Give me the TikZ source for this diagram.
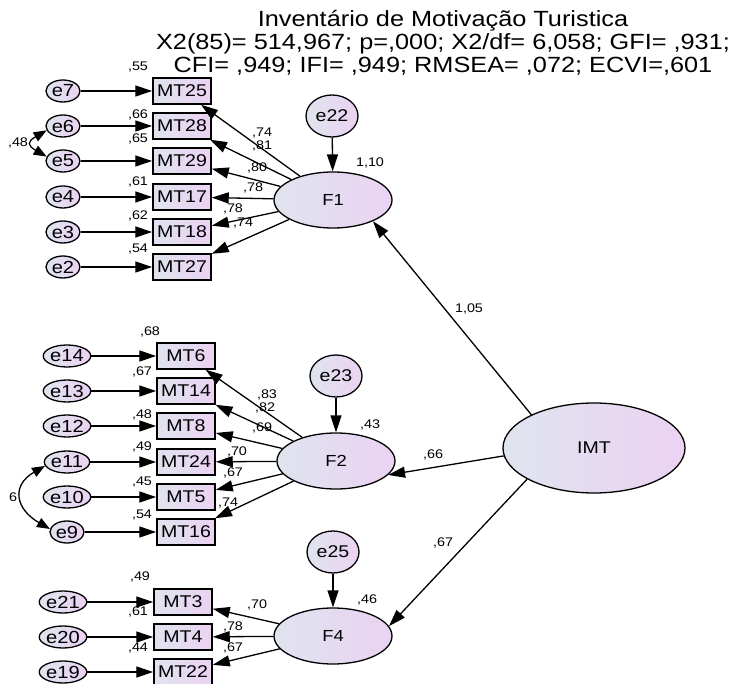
\documentclass[tikz,border=0pt]{standalone}
\usepackage{fontspec}
\setmainfont{Liberation Sans}[FakeStretch=1.15]
\usetikzlibrary{arrows.meta,shapes.geometric}

\definecolor{shadeL}{HTML}{DFE4EE}
\definecolor{shadeR}{HTML}{EBD2F3}

\tikzset{
  obs/.style={rectangle,draw,line width=1.5pt,minimum width=58pt,minimum height=26pt,inner sep=0pt,
    left color=shadeL,right color=shadeR,font=\fontsize{17}{17}\selectfont},
  err/.style={ellipse,draw,line width=1.3pt,minimum width=34pt,minimum height=22pt,inner sep=0pt,
    left color=shadeL,right color=shadeR,font=\fontsize{17.5}{17.5}\selectfont},
  dist/.style={ellipse,draw,line width=1.3pt,minimum width=52pt,minimum height=42pt,inner sep=0pt,
    left color=shadeL,right color=shadeR,font=\fontsize{17}{17}\selectfont},
  lat/.style={ellipse,draw,line width=1.3pt,minimum width=118pt,minimum height=56pt,inner sep=0pt,
    left color=shadeL,right color=shadeR,font=\fontsize{16}{16}\selectfont},
  coef/.style={inner sep=0pt,font=\fontsize{12.5}{12.5}\selectfont},
  path/.style={draw,line width=1.3pt,-{Triangle[length=17pt,width=11pt]}},
  cov/.style={draw,line width=1.3pt,{Triangle[length=13pt,width=10pt]}-{Triangle[length=13pt,width=10pt]}}
}

\begin{document}
\begin{tikzpicture}[x=1pt,y=-1pt]

        \useasboundingbox (0,0) rectangle (736,684);

        \node (title) [align=center,inner sep=0pt,font=\fontsize{22}{23}\selectfont] at (443,43)
          {Inventário de Motivação Turistica\\
           X2(85)= 514,967; p=,000; X2/df= 6,058; GFI= ,931;\\
           CFI= ,949; IFI= ,949; RMSEA= ,072; ECVI=,601};

        \begin{scope}[every node/.style={obs}]
          \node (MT25) at (182,91)  {MT25};
          \node (MT28) at (182,126) {MT28};
          \node (MT29) at (182,161) {MT29};
          \node (MT17) at (182,197) {MT17};
          \node (MT18) at (182,232) {MT18};
          \node (MT27) at (182,267) {MT27};
          \node (MT6)  at (186,356) {MT6};
          \node (MT14) at (186,391) {MT14};
          \node (MT8)  at (186,426) {MT8};
          \node (MT24) at (186,462) {MT24};
          \node (MT5)  at (186,497) {MT5};
          \node (MT16) at (186,532) {MT16};
          \node (MT3)  at (183,602) {MT3};
          \node (MT4)  at (183,637) {MT4};
          \node (MT22) at (183,672) {MT22};
        \end{scope}

        \begin{scope}[every node/.style={err}]
          \node (e7)  at (63,91)  {e7};
          \node (e6)  at (63,126) {e6};
          \node (e5)  at (63,161) {e5};
          \node (e4)  at (63,197) {e4};
          \node (e3)  at (63,232) {e3};
          \node (e2)  at (63,267) {e2};
          \node (e14) at (67,356) {e14};
          \node (e13) at (67,391) {e13};
          \node (e12) at (67,426) {e12};
          \node (e11) at (67,462) {e11};
          \node (e10) at (67,497) {e10};
          \node (e9)  at (67,532) {e9};
          \node (e21) at (63,602) {e21};
          \node (e20) at (63,637) {e20};
          \node (e19) at (63,672) {e19};
        \end{scope}

        \begin{scope}[every node/.style={dist}]
          \node (e22) at (332,116) {e22};
          \node (e23) at (336,376) {e23};
          \node (e25) at (333,552) {e25};
        \end{scope}

        \begin{scope}[every node/.style={lat}]
          \node (F1) at (333,200) {F1};
          \node (F2) at (336,461) {F2};
          \node (F4) at (333,636) {F4};
          \node (IMT) [minimum width=182pt,minimum height=90pt,font=\fontsize{17}{17}\selectfont] at (594,448) {IMT};
        \end{scope}

        \begin{scope}[every edge/.style={path}]
          \path (e7)  edge (MT25);
          \path (e6)  edge (MT28);
          \path (e5)  edge (MT29);
          \path (e4)  edge (MT17);
          \path (e3)  edge (MT18);
          \path (e2)  edge (MT27);
          \path (e14) edge (MT6);
          \path (e13) edge (MT14);
          \path (e12) edge (MT8);
          \path (e11) edge (MT24);
          \path (e10) edge (MT5);
          \path (e9)  edge (MT16);
          \path (e21) edge (MT3);
          \path (e20) edge (MT4);
          \path (e19) edge (MT22);

          \path (F1) edge (MT25);
          \path (F1) edge (MT28);
          \path (F1) edge (MT29);
          \path (F1) edge (MT17);
          \path (F1) edge (MT18);
          \path (F1) edge (MT27);
          \path (F2) edge (MT6);
          \path (F2) edge (MT14);
          \path (F2) edge (MT8);
          \path (F2) edge (MT24);
          \path (F2) edge (MT5);
          \path (F2) edge (MT16);
          \path (F4) edge (MT3);
          \path (F4) edge (MT4);
          \path (F4) edge (MT22);

          \path (e22) edge (F1);
          \path (e23) edge (F2);
          \path (e25) edge (F4);

          \path (IMT.152) edge (F1.-28);
          \path (IMT.185) edge (F2.-15);
          \path (IMT.205) edge (F4.10);
        \end{scope}

        \begin{scope}[every edge/.style={cov}]
          \path (e6.195)  edge[out=210,in=150,looseness=2.2] (e5.165);
          \path (e11.190) edge[out=210,in=150,looseness=1.6] (e9.170);
        \end{scope}

        \begin{scope}[every node/.style={coef}]
          \node (r25) at (138,67)  {,55};
          \node (r28) at (138,115) {,66};
          \node (r29) at (138,139) {,65};
          \node (r17) at (138,182) {,61};
          \node (r18) at (138,216) {,62};
          \node (r27) at (138,249) {,54};
          \node (rF1) at (370,163) {1,10};
          \node (w25) at (262,133) {,74};
          \node (w28) at (262,146) {,81};
          \node (w29) at (257,168) {,80};
          \node (w17) at (253,188) {,78};
          \node (w18) at (233,209) {,78};
          \node (w27) at (243,223) {,74};

          \node (r6)  at (150,332) {,68};
          \node (r14) at (142,372) {,67};
          \node (r8)  at (142,415) {,48};
          \node (r24) at (142,447) {,49};
          \node (r5)  at (142,482) {,45};
          \node (r16) at (142,515) {,54};
          \node (rF2) at (370,425) {,43};
          \node (w6)  at (267,395) {,83};
          \node (w14) at (265,408) {,82};
          \node (w8)  at (262,428) {,69};
          \node (w24) at (237,452) {,70};
          \node (w5)  at (233,473) {,67};
          \node (w16) at (228,503) {,74};

          \node (r3)  at (140,577) {,49};
          \node (r4)  at (138,612) {,61};
          \node (r22) at (138,648) {,44};
          \node (rF4) at (367,600) {,46};
          \node (w3)  at (257,605) {,70};
          \node (w4)  at (233,627) {,78};
          \node (w22) at (233,648) {,67};

          \node (wF1) at (469,309) {1,05};
          \node (wF2) at (433,455) {,66};
          \node (wF4) at (443,543) {,67};
          \node (c65) at (18,143)  {,48};
          \node (c119) at (13,497) {6};
        \end{scope}

      \end{tikzpicture}
\end{document}
